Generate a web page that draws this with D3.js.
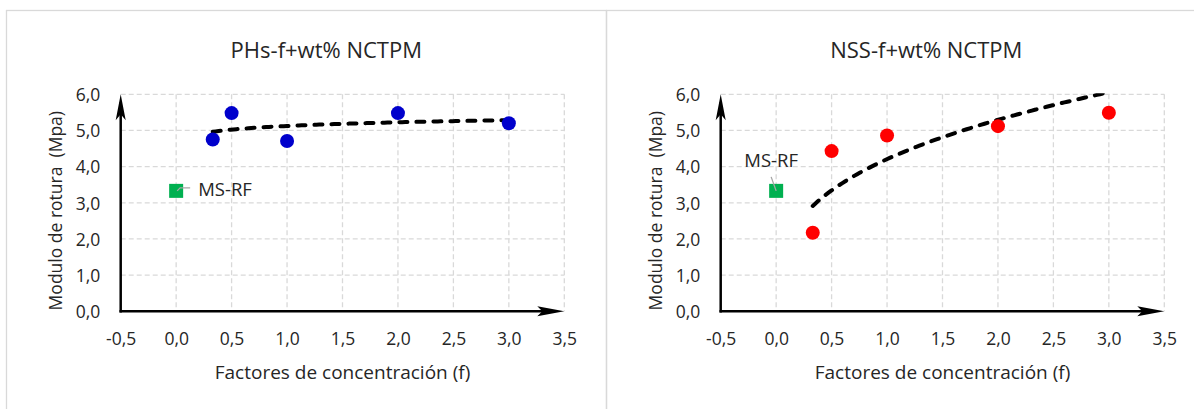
<!DOCTYPE html>
<html>
<head>
<meta charset="utf-8">
<script src="https://cdn.jsdelivr.net/npm/d3@7"></script>
<style>
  html, body { margin: 0; padding: 0; background: #ffffff; }
  svg { display: block; }
  text { font-family: "Open Sans", Lato, sans-serif; fill: #262626; }
</style>
</head>
<body>
<svg id="chart" width="1194" height="409"></svg>
<script>
// ---------------- data ----------------
const xTickValues = [-0.5, 0, 0.5, 1, 1.5, 2, 2.5, 3, 3.5];
const yTickValues = [0, 1, 2, 3, 4, 5, 6];
const concentrationFactors = [0.33, 0.5, 1, 2, 3];
const phsValues = [4.75, 5.48, 4.71, 5.48, 5.20];
const nssValues = [2.17, 4.43, 4.86, 5.12, 5.49];
const referenceX = [0];
const referenceY = [3.33];
const referenceLabel = "MS-RF";
const chartTitles = ["PHs-f+wt% NCTPM", "NSS-f+wt% NCTPM"];
const xAxisTitle = "Factores de concentración (f)";
const yAxisTitle = "Modulo de rotura  (Mpa)";

// ---------------- helpers ----------------
const locale = d3.formatLocale({decimal: ",", thousands: ".", grouping: [3], currency: ["", ""], minus: "-"});
const fmt = locale.format(".1f");

function logFit(xs, ys) {
  const lx = xs.map(Math.log);
  const mx = d3.mean(lx), my = d3.mean(ys);
  const b = d3.sum(lx, (v, i) => (v - mx) * (ys[i] - my)) / d3.sum(lx, v => (v - mx) ** 2);
  const a = my - b * mx;
  return x => a + b * Math.log(x);
}
function powerFit(xs, ys) {
  const lx = xs.map(Math.log), ly = ys.map(Math.log);
  const mx = d3.mean(lx), my = d3.mean(ly);
  const b = d3.sum(lx, (v, i) => (v - mx) * (ly[i] - my)) / d3.sum(lx, v => (v - mx) ** 2);
  const a = Math.exp(my - b * mx);
  return x => a * Math.pow(x, b);
}

const svg = d3.select("#chart");

function drawPanel(offsetX, cfg) {
  const g = svg.append("g").attr("transform", `translate(${offsetX},0)`);

  // panel border
  g.append("rect")
    .attr("x", 6.5).attr("y", 10.5).attr("width", 600).attr("height", 420)
    .attr("fill", "none").attr("stroke", "#d9d9d9").attr("stroke-width", 1.3);

  const x = d3.scaleLinear().domain([-0.5, 3.5]).range([120.7, 564.3]);
  const y = d3.scaleLinear().domain([0, 6]).range([311.3, 94.3]);

  const clipId = "clip" + offsetX;
  g.append("clipPath").attr("id", clipId).append("rect")
    .attr("x", x(-0.5)).attr("y", y(6) - 1).attr("width", x(3.5) - x(-0.5)).attr("height", y(0) - y(6) + 1);

  // gridlines
  const grid = g.append("g").attr("stroke", "#d9d9d9").attr("stroke-width", 1.3).attr("stroke-dasharray", "5,3");
  grid.selectAll("line.v").data(xTickValues.filter(v => v > -0.5)).join("line")
    .attr("x1", d => x(d)).attr("x2", d => x(d))
    .attr("y1", y(6)).attr("y2", y(0));
  grid.selectAll("line.h").data(yTickValues.filter(v => v > 0)).join("line")
    .attr("x1", x(-0.5)).attr("x2", x(3.5))
    .attr("y1", d => y(d)).attr("y2", d => y(d));

  // tick labels via d3 axes
  const yAxis = g.append("g").attr("transform", `translate(${x(-0.5)},0)`)
    .call(d3.axisLeft(y).tickValues(yTickValues).tickSize(0).tickPadding(20.5).tickFormat(fmt));
  yAxis.select(".domain").remove();
  yAxis.selectAll("text").attr("font-size", 17.5).attr("font-family", "Open Sans").attr("fill", "#262626").attr("dy", "0.36em");

  const xAxis = g.append("g").attr("transform", `translate(0,${y(0)})`)
    .call(d3.axisBottom(x).tickValues(xTickValues).tickSize(0).tickFormat(fmt));
  xAxis.select(".domain").remove();
  xAxis.selectAll("text").attr("font-size", 17.5).attr("font-family", "Open Sans").attr("fill", "#262626")
    .attr("y", 33.7).attr("dy", null);

  // axis lines with arrows
  const ax = g.append("g");
  ax.append("line").attr("x1", x(-0.5)).attr("x2", x(-0.5)).attr("y1", y(0) + 1.2).attr("y2", y(6) + 8)
    .attr("stroke", "#000").attr("stroke-width", 2.5);
  ax.append("line").attr("x1", x(-0.5) - 1.2).attr("x2", x(3.5) - 10).attr("y1", y(0)).attr("y2", y(0))
    .attr("stroke", "#000").attr("stroke-width", 2.5);
  const ax0 = x(-0.5), ytop = y(6), xr = x(3.5), yb = y(0);
  ax.append("path").attr("fill", "#000")
    .attr("d", `M${ax0},${ytop}L${ax0 - 5},${ytop + 26}L${ax0},${ytop + 20}L${ax0 + 5},${ytop + 26}Z`);
  ax.append("path").attr("fill", "#000")
    .attr("d", `M${xr},${yb}L${xr - 27},${yb - 5}L${xr - 22},${yb}L${xr - 27},${yb + 5}Z`);

  // trendline
  const fit = cfg.fitFn(concentrationFactors, cfg.values);
  const x0 = d3.min(concentrationFactors), x1 = d3.max(concentrationFactors);
  const samples = d3.range(0, 101).map(i => x0 + (x1 - x0) * i / 100);
  g.append("path")
    .attr("clip-path", `url(#${clipId})`)
    .attr("d", d3.line().x(d => x(d)).y(d => y(fit(d)))(samples))
    .attr("fill", "none").attr("stroke", "#000").attr("stroke-width", 4)
    .attr("stroke-dasharray", "8,9").attr("stroke-linecap", "round");

  // data points
  g.selectAll("circle.pt").data(concentrationFactors).join("circle")
    .attr("cx", d => x(d)).attr("cy", (d, i) => y(cfg.values[i])).attr("r", 7)
    .attr("fill", cfg.color);

  // reference point (MS-RF)
  referenceX.forEach((rx, i) => {
    const cx = x(rx), cy = y(referenceY[i]);
    g.append("rect").attr("x", cx - 7).attr("y", cy - 7).attr("width", 14).attr("height", 14)
      .attr("fill", "#00B050");
    g.append("path").attr("fill", "none").attr("stroke", "#a6a6a6").attr("stroke-width", 1.3)
      .attr("d", cfg.leader(cx, cy));
    g.append("text").attr("x", cx + cfg.labelDx).attr("y", cy + cfg.labelDy)
      .attr("font-size", 18.5).attr("text-anchor", cfg.labelAnchor).text(referenceLabel);
  });

  // titles
  g.append("text").attr("x", 326.3).attr("y", 58.3).attr("text-anchor", "middle")
    .attr("font-size", 22).text(cfg.title);
  g.append("text").attr("x", (x(-0.5) + x(3.5)) / 2).attr("y", 379).attr("text-anchor", "middle")
    .attr("font-size", 19).text(xAxisTitle);
  g.append("text").attr("transform", `translate(61.5,210.7) rotate(-90)`).attr("text-anchor", "middle")
    .attr("font-size", 17.5).style("white-space", "pre").text(yAxisTitle);
}

drawPanel(0, {
  title: chartTitles[0], values: phsValues, color: "#0000CC", fitFn: logFit,
  leader: (cx, cy) => `M${cx + 1},${cy}L${cx + 4},${cy - 3}L${cx + 14},${cy - 3}`,
  labelDx: 22, labelDy: 5.5, labelAnchor: "start"
});
drawPanel(600, {
  title: chartTitles[1], values: nssValues, color: "#FF0000", fitFn: powerFit,
  leader: (cx, cy) => `M${cx},${cy}L${cx - 5},${cy - 14}`,
  labelDx: -5, labelDy: -23.5, labelAnchor: "middle"
});
</script>
</body>
</html>
